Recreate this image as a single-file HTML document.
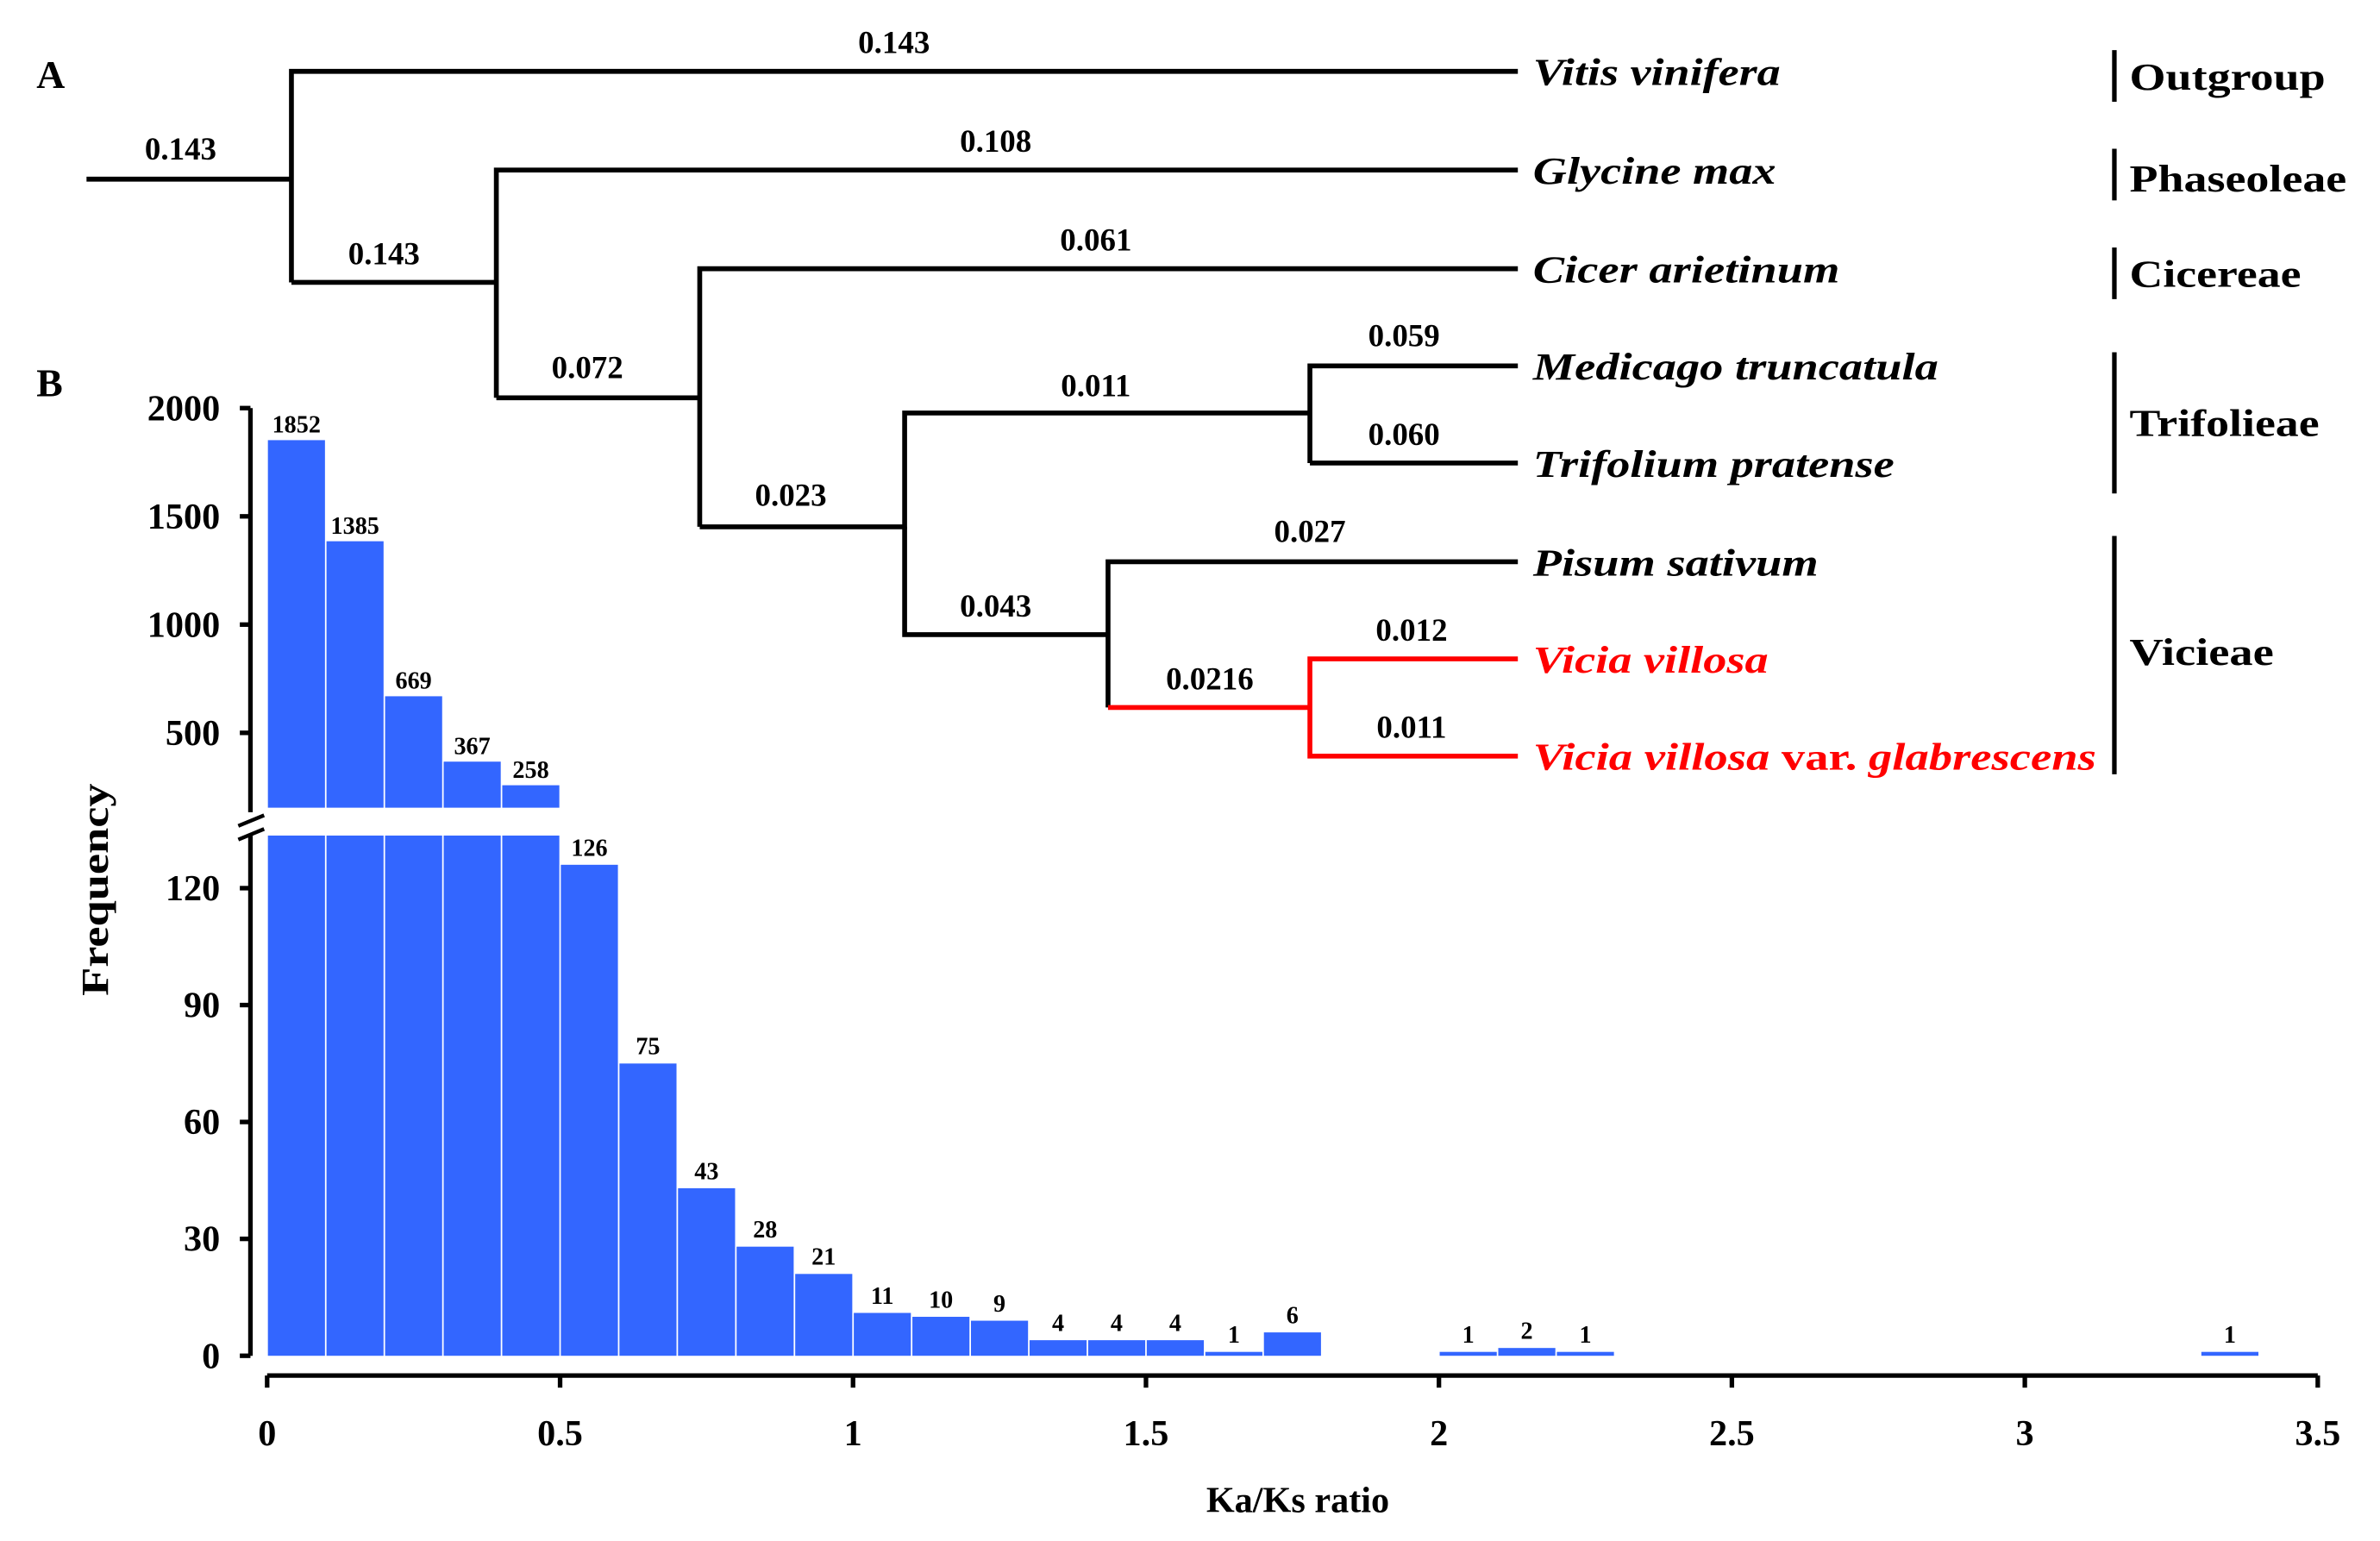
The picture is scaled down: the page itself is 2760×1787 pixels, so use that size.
<!DOCTYPE html>
<html><head><meta charset="utf-8"><style>
html,body{margin:0;padding:0;background:#fff;}
svg{display:block;}
text{font-family:"Liberation Serif",serif;font-weight:bold;}
</style></head><body>
<svg id="fig" width="2760" height="1787" viewBox="0 0 1568 1015" preserveAspectRatio="none" xmlns="http://www.w3.org/2000/svg">
<rect width="1568" height="1015" fill="#fff"/>
<text x="24" y="58" font-size="26">A</text>
<text x="24" y="261" font-size="26">B</text>
<g id="tree" stroke="#000" stroke-width="3.2" fill="none">
<path d="M57 118H192"/>
<path d="M192 186V47H1000"/>
<path d="M192 186H327"/>
<path d="M327 262V112H1000"/>
<path d="M327 262H461"/>
<path d="M461 347V177H1000"/>
<path d="M461 347H596V272H863"/>
<path d="M596 347V418H730"/>
<path d="M863 305V241H1000M863 305H1000"/>
<path d="M730 466V370H1000"/>
<path stroke="#ff0000" d="M730 466H863V434H1000M863 466V498H1000"/>
</g>
<g font-size="21" text-anchor="middle">
<text x="589" y="35">0.143</text><text x="119" y="105">0.143</text><text x="656" y="100">0.108</text>
<text x="253" y="174">0.143</text><text x="722" y="165">0.061</text><text x="387" y="249">0.072</text>
<text x="925" y="228">0.059</text><text x="722" y="261">0.011</text><text x="925" y="293">0.060</text>
<text x="521" y="333">0.023</text><text x="863" y="357">0.027</text><text x="656" y="406">0.043</text>
<text x="930" y="422">0.012</text><text x="797" y="454">0.0216</text><text x="930" y="486">0.011</text>
</g>
<g font-size="25" font-style="italic">
<text x="1010" y="56" textLength="163" lengthAdjust="spacingAndGlyphs">Vitis vinifera</text>
<text x="1010" y="121" textLength="160" lengthAdjust="spacingAndGlyphs">Glycine max</text>
<text x="1010" y="186" textLength="202" lengthAdjust="spacingAndGlyphs">Cicer arietinum</text>
<text x="1010" y="250" textLength="267" lengthAdjust="spacingAndGlyphs">Medicago truncatula</text>
<text x="1010" y="314" textLength="238" lengthAdjust="spacingAndGlyphs">Trifolium pratense</text>
<text x="1010" y="379" textLength="188" lengthAdjust="spacingAndGlyphs">Pisum sativum</text>
<text x="1010" y="443" fill="#ff0000" textLength="155" lengthAdjust="spacingAndGlyphs">Vicia villosa</text>
<text x="1010" y="507" fill="#ff0000" textLength="371" lengthAdjust="spacingAndGlyphs">Vicia villosa <tspan font-style="normal">var.</tspan> glabrescens</text>
</g>
<g stroke="#000" stroke-width="3">
<path d="M1393 33V67M1393 98V132M1393 163V197M1393 232V325M1393 353V510"/>
</g>
<g font-size="25">
<text x="1403" y="59" textLength="129" lengthAdjust="spacingAndGlyphs">Outgroup</text>
<text x="1403" y="126" textLength="143" lengthAdjust="spacingAndGlyphs">Phaseoleae</text>
<text x="1403" y="189" textLength="113" lengthAdjust="spacingAndGlyphs">Cicereae</text>
<text x="1403" y="287" textLength="125" lengthAdjust="spacingAndGlyphs">Trifolieae</text>
<text x="1403" y="438" textLength="95" lengthAdjust="spacingAndGlyphs">Vicieae</text>
</g>
<g id="chart"></g>
</svg>
<script>
const binStarts=[0,0.1,0.2,0.3,0.4,0.5,0.6,0.7,0.8,0.9,1.0,1.1,1.2,1.3,1.4,1.5,1.6,1.7,2.0,2.1,2.2,3.3];
const counts=[1852,1385,669,367,258,126,75,43,28,21,11,10,9,4,4,4,1,6,1,2,1,1];
const upperTicks=[500,1000,1500,2000];
const lowerTicks=[0,30,60,90,120];
const xTicks=[0,0.5,1,1.5,2,2.5,3,3.5];
const binWidth=0.1;
const NS="http://www.w3.org/2000/svg";
const g=document.getElementById('chart');
const X=v=>176+v*386;
const YL=v=>893-v*(77/30);
const YU=v=>554-v*(71.3/500);
const lowerMax=133.5, upperMin=150, upperBase=532;
function el(t,a,p){const e=document.createElementNS(NS,t);for(const k in a)e.setAttribute(k,a[k]);(p||g).appendChild(e);return e;}
for(let i=0;i<counts.length;i++){
  const x0=X(binStarts[i]),x1=X(binStarts[i]+binWidth),c=counts[i];
  const lowTop=YL(Math.min(c,lowerMax));
  const b=el('rect',{x:x0+0.5,y:lowTop,width:x1-x0-1,height:893-lowTop,fill:'#3366ff'});
  
  
  let ly=lowTop-6;
  if(c>upperMin){
    const ut=YU(c);
    const u=el('rect',{x:x0+0.5,y:ut,width:x1-x0-1,height:upperBase-ut,fill:'#3366ff'});
    
    
    ly=ut-5;
  }
  const t=el('text',{x:(x0+x1)/2,y:ly,'font-size':16,'text-anchor':'middle'});
  t.textContent=c;
  
  
}
const ax=el('path',{d:'M165 '+YU(2000)+'V535M165 550V893',stroke:'#000','stroke-width':3,fill:'none'});


const br=el('path',{d:'M157 544L174 537M157 553L174 546',stroke:'#000','stroke-width':2.5,fill:'none'});


upperTicks.forEach(v=>{
  el('path',{d:'M158 '+YU(v)+'H165',stroke:'#000','stroke-width':3});
  const t=el('text',{x:145,y:YU(v)+8,'font-size':24,'text-anchor':'end'});t.textContent=v;
  
  
});
lowerTicks.forEach(v=>{
  el('path',{d:'M158 '+YL(v)+'H165',stroke:'#000','stroke-width':3});
  const t=el('text',{x:145,y:YL(v)+8,'font-size':24,'text-anchor':'end'});t.textContent=v;
  
  
});
const xa=el('path',{d:'M'+X(0)+' 906H'+X(3.5),stroke:'#000','stroke-width':3,fill:'none'});


xTicks.forEach(v=>{
  el('path',{d:'M'+X(v)+' 906V914',stroke:'#000','stroke-width':3});
  const t=el('text',{x:X(v),y:952,'font-size':24,'text-anchor':'middle'});t.textContent=v;
  
  
});
const xt=el('text',{x:855,y:996,'font-size':24,'text-anchor':'middle'});xt.textContent='Ka/Ks ratio';


const yt=el('text',{x:0,y:0,'font-size':25,'text-anchor':'middle',transform:'translate(71 586) rotate(-90)',textLength:140,lengthAdjust:'spacingAndGlyphs'});yt.textContent='Frequency';


</script>
</body></html>
